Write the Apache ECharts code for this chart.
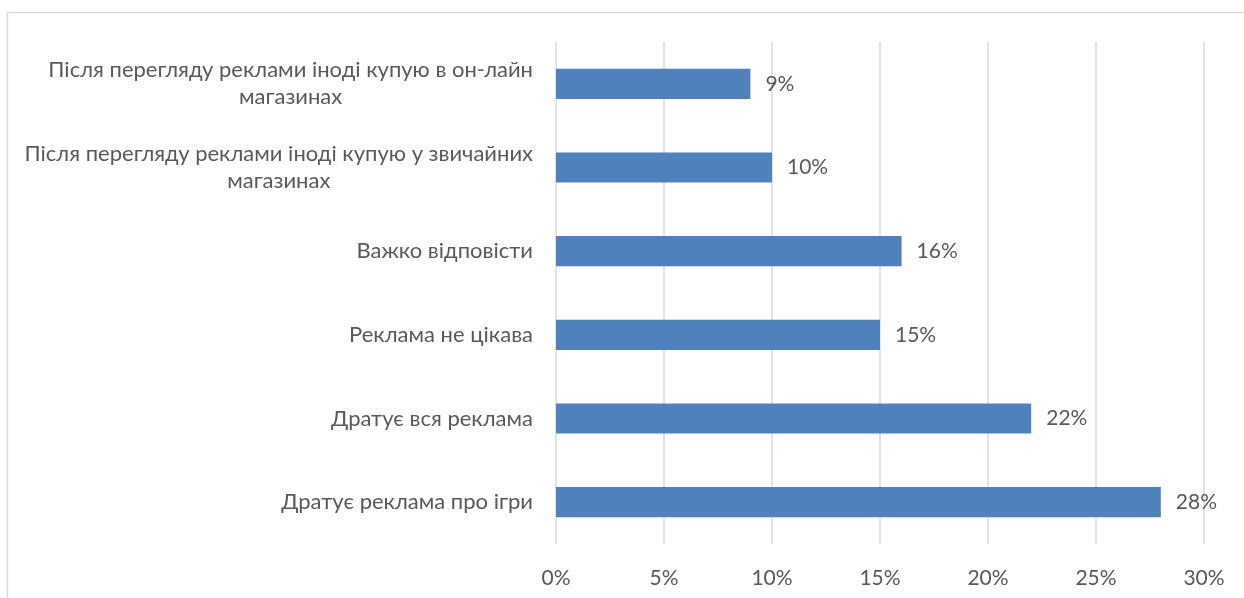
<!DOCTYPE html>
<html>
<head>
<meta charset="utf-8">
<script src="https://cdn.jsdelivr.net/npm/echarts@6/dist/echarts.min.js"></script>
<style>
  html, body { margin: 0; padding: 0; background: #fff; }
  #chart { width: 1244px; height: 598px; }
</style>
</head>
<body>
<div id="chart"></div>
<script>
// Survey answers, listed bottom to top
const categories = [
  'Дратує реклама про ігри',
  'Дратує вся реклама',
  'Реклама не цікава',
  'Важко відповісти',
  'Після перегляду реклами іноді купую у звичайних\nмагазинах',
  'Після перегляду реклами іноді купую в он-лайн\nмагазинах'
];
const shares = [28, 22, 15, 16, 10, 9];
const tickStep = 5;
const axisMax = 30;

const FONT = 'Lato, "Noto Sans", sans-serif';
const TEXT = '#595959';
const GRID = '#D9D9D9';

const chart = echarts.init(document.getElementById('chart'));
chart.setOption({
  animation: false,
  backgroundColor: '#ffffff',
  graphic: [{
    type: 'rect',
    shape: { x: 7.5, y: 12.5, width: 1240, height: 600 },
    style: { fill: 'none', stroke: GRID, lineWidth: 1.5 },
    silent: true
  }],
  grid: { left: 556, right: 40, top: 42, bottom: 54, containLabel: false },
  xAxis: {
    type: 'value',
    min: 0,
    max: axisMax,
    interval: tickStep,
    axisLine: { show: false },
    axisTick: { show: false },
    splitLine: { lineStyle: { color: GRID, width: 1.5 } },
    axisLabel: {
      formatter: v => v + '%',
      color: TEXT,
      fontFamily: FONT,
      fontSize: 21,
      margin: 24
    }
  },
  yAxis: {
    type: 'category',
    data: categories,
    axisLine: { show: false },
    axisTick: { show: false },
    axisLabel: {
      color: TEXT,
      fontFamily: FONT,
      fontSize: 22,
      margin: 23,
      align: 'right',
      formatter: v => v.split('\n').map(l => '{c|' + l + '}').join('\n'),
      rich: {
        c: { align: 'center', color: TEXT, fontFamily: FONT, fontSize: 22, lineHeight: 27 }
      }
    }
  },
  series: [{
    type: 'bar',
    data: shares,
    barCategoryGap: '64%',
    itemStyle: { color: '#4F81BD' },
    label: {
      show: true,
      position: 'right',
      distance: 15,
      formatter: p => p.value + '%',
      color: TEXT,
      fontFamily: FONT,
      fontSize: 21
    }
  }]
});
</script>
</body>
</html>
